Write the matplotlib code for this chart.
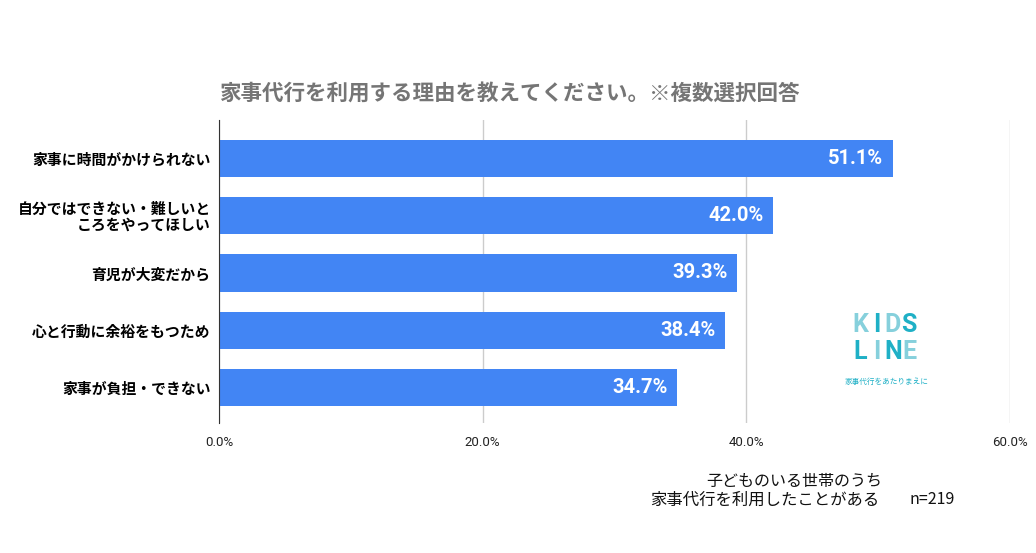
import numpy as np
import matplotlib.pyplot as plt

plt.rcParams['font.family'] = ['Noto Sans CJK JP', 'DejaVu Sans']

# data
categories = ['家事に時間がかけられない',
              '自分ではできない・難しいと\nころをやってほしい',
              '育児が大変だから',
              '心と行動に余裕をもつため',
              '家事が負担・できない']
values = [51.1, 42.0, 39.3, 38.4, 34.7]
xticks = [0, 20, 40, 60]
xtick_labels = ['0.0%', '20.0%', '40.0%', '60.0%']

fig = plt.figure(figsize=(10.36, 5.53), dpi=100)
ax = fig.add_axes([0.2114, 0.235, 0.7636, 0.548])

y = np.arange(len(categories))
ax.barh(y, values, height=0.65, color='#4285F4', zorder=3)

for yi, v in zip(y, values):
    ax.text(v - 0.7, yi, f'{v:.1f}%', ha='right', va='center', color='white',
            fontsize=14.5, fontweight='bold', family=['Roboto', 'DejaVu Sans'], zorder=4)

ax.set_ylim(4.62, -0.67)
ax.set_xlim(0, 60)
ax.set_yticks(y)
ax.set_yticklabels(categories, fontsize=10.7, fontweight='bold', linespacing=1.0)
ax.set_xticks(xticks)
ax.set_xticklabels(xtick_labels, fontsize=9.5, family=['Roboto', 'DejaVu Sans'], color='#222222')
ax.tick_params(axis='both', length=0)
ax.tick_params(axis='y', pad=6)
ax.tick_params(axis='x', pad=9)

ax.grid(axis='x', color='#cccccc', linewidth=1, zorder=0)
for s in ['top', 'right', 'bottom']:
    ax.spines[s].set_visible(False)
ax.spines['left'].set_color('#333333')
ax.spines['left'].set_zorder(5)

fig.text(0.492, 0.832, '家事代行を利用する理由を教えてください。※複数選択回答',
         ha='center', va='center', fontsize=15.5, fontweight='bold', color='#757575')

# note
fig.text(0.767, 0.130, '子どものいる世帯のうち', ha='center', va='center', fontsize=11.5, color='#111111')
fig.text(0.628, 0.096, '家事代行を利用したことがある', ha='left', va='center',
         fontsize=11.8, color='#111111')
fig.text(0.922, 0.096, 'n=219', ha='right', va='center',
         fontsize=11.5, color='#111111')

# logo
light, teal = '#86d0dc', '#1fb0c6'
logo_font = dict(fontsize=18, fontweight='bold', family=['Roboto', 'DejaVu Sans'],
                 ha='center', va='center')
for i, (ch, c) in enumerate(zip('KIDS', [light, teal, light, teal])):
    fig.text(0.854 + (i - 1.5) * 0.0158, 0.413, ch, color=c, **logo_font)
for i, (ch, c) in enumerate(zip('LINE', [teal, light, teal, light])):
    fig.text(0.854 + (i - 1.5) * 0.0158, 0.363, ch, color=c, **logo_font)
fig.text(0.856, 0.310, '家事代行をあたりまえに', ha='center', va='center', fontsize=5.5,
         color=teal)

fig.savefig('out.png', dpi=100)
